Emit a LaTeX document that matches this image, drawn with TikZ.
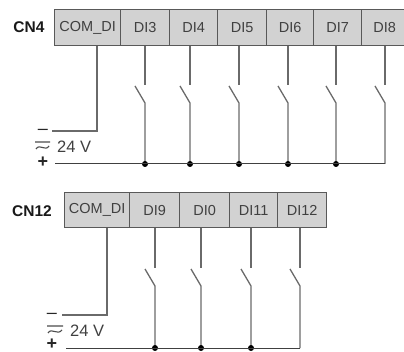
\documentclass[tikz,border=0pt]{standalone}
\usepackage{fontspec}
\setmainfont{Liberation Sans}
\usetikzlibrary{positioning}

\definecolor{pinfill}{HTML}{D2D2D2}
\definecolor{wirecol}{HTML}{6A6A6A}

% one input: wire from the terminal, open contact, drop to the bus
\newcommand{\blade}[4]{
  \coordinate (o#1) at (#2,#3);
  \coordinate (b#1) at (#2-10,#3+1);
  \coordinate (h#1) at (#2,#3+18);
  \coordinate (t#1) at (#2,#4);
  \draw[wire] (#1.south -| o#1) -- (o#1);
  \draw[wire] (b#1) -- (h#1) -- (t#1);
}

\begin{document}
\begin{tikzpicture}[x=1pt,y=-1pt,
                    every node/.style={font=\fontsize{14.5}{16}\selectfont,text=black!75},
                    wire/.style={draw=wirecol,line width=1.3pt},
                    bus/.style={draw=black!75,line width=1pt},
                    pin/.style={draw=black!65,fill=pinfill,line width=1.3pt,
                                anchor=north west,inner sep=0pt},
                    dot/.style={circle,fill=black,inner sep=0pt,minimum size=6pt},
                    sign/.style={inner sep=0pt,text=black!85,font=\fontsize{18}{18}\selectfont},
                    plus/.style={sign,font=\fontsize{18}{18}\selectfont\bfseries},
                    cn/.style={inner sep=0pt,text=black!90,font=\fontsize{15.5}{16}\selectfont\bfseries},
                    volt/.style={inner sep=0pt,font=\fontsize{16.5}{18}\selectfont}]
  \useasboundingbox (0,0) rectangle (404,352);

  % upper connector
  \node[cn] (CN4) at (29,27) {CN4};
  \node[pin,minimum width=66pt,minimum height=36pt] (COMa) at (54,9)  {COM\_DI};
  \node[pin,minimum width=49pt,minimum height=36pt] (DI3)  at (120,9) {DI3};
  \node[pin,minimum width=48pt,minimum height=36pt] (DI4)  at (169,9) {DI4};
  \node[pin,minimum width=49pt,minimum height=36pt] (DI5)  at (217,9) {DI5};
  \node[pin,minimum width=47pt,minimum height=36pt] (DI6)  at (266,9) {DI6};
  \node[pin,minimum width=48pt,minimum height=36pt] (DI7)  at (313,9) {DI7};
  \node[pin,minimum width=46pt,minimum height=36pt] (DI8)  at (361,9) {DI8};

  \blade{DI3}{145}{85}{164}
  \blade{DI4}{190}{85}{164}
  \blade{DI5}{239}{85}{164}
  \blade{DI6}{288}{85}{164}
  \blade{DI7}{336}{85}{164}
  \blade{DI8}{385}{85}{164}

  \node[dot] (d3) at (tDI3) {};
  \node[dot] (d4) at (tDI4) {};
  \node[dot] (d5) at (tDI5) {};
  \node[dot] (d6) at (tDI6) {};
  \node[dot] (d7) at (tDI7) {};

  \coordinate (comA) at (97,131);
  \coordinate (negA) at (52,131);
  \coordinate (posA) at (55,164);
  \draw[wire] (COMa.south -| comA) -- (comA) -- (negA);
  \draw[bus] (posA) -- (tDI8);

  \node[sign] (minusA) at (43,132) {--};
  \draw[line width=1.1pt,draw=black!70] (35,142) -- (50,142)
        (36,149) .. controls (40,143) and (45,152) .. (49,146);
  \node[volt,anchor=west] (voltA) at (57,147) {24 V};
  \node[plus] (plusA) at (43,162) {+};

  % lower connector
  \node[cn] (CN12) at (32,211) {CN12};
  \node[pin,minimum width=65pt,minimum height=35pt] (COMb) at (64,192)  {COM\_DI};
  \node[pin,minimum width=50pt,minimum height=35pt] (DI9)  at (129,192) {DI9};
  \node[pin,minimum width=50pt,minimum height=35pt] (DI0)  at (179,192) {DI0};
  \node[pin,minimum width=48pt,minimum height=35pt] (DI11) at (229,192) {DI11};
  \node[pin,minimum width=49pt,minimum height=35pt] (DI12) at (277,192) {DI12};

  \blade{DI9}{155}{268}{348}
  \blade{DI0}{201}{268}{348}
  \blade{DI11}{251}{268}{348}
  \blade{DI12}{300}{268}{348}

  \node[dot] (d9)  at (tDI9)  {};
  \node[dot] (d0)  at (tDI0)  {};
  \node[dot] (d11) at (tDI11) {};

  \coordinate (comB) at (107,315);
  \coordinate (negB) at (62,315);
  \coordinate (posB) at (66,348);
  \draw[wire] (COMb.south -| comB) -- (comB) -- (negB);
  \draw[bus] (posB) -- (tDI12);

  \node[sign] (minusB) at (52,316) {--};
  \draw[line width=1.1pt,draw=black!70] (47,326) -- (63,326)
        (48,333) .. controls (52,327) and (57,336) .. (62,330);
  \node[volt,anchor=west] (voltB) at (70,331) {24 V};
  \node[plus] (plusB) at (52,344) {+};

\end{tikzpicture}
\end{document}
